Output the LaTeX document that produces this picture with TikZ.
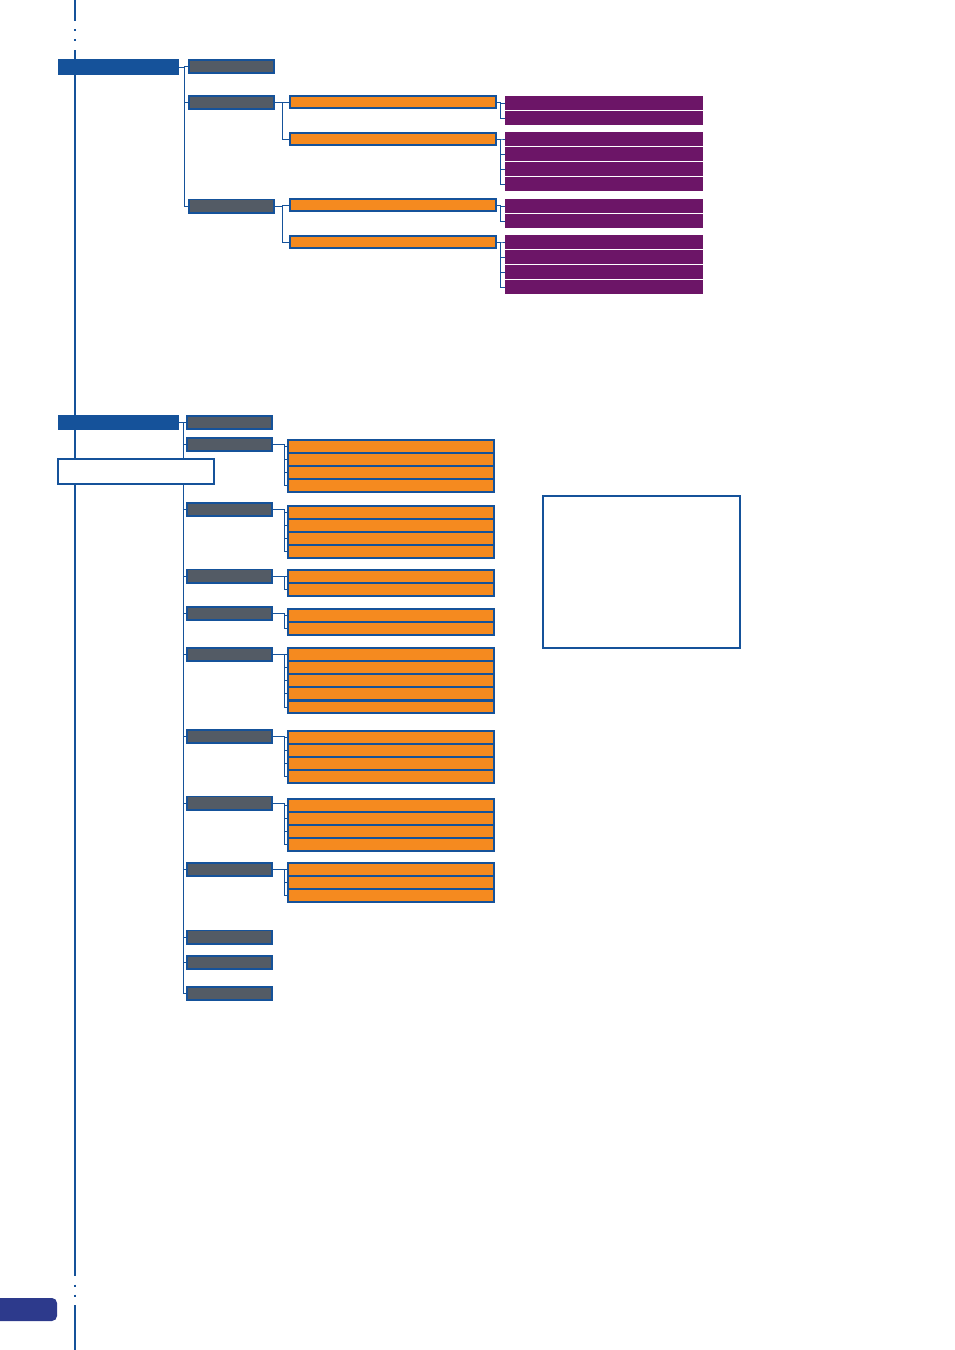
\documentclass[tikz,border=0pt]{standalone}
\usepackage{xcolor}
\usepackage{tikz}

\definecolor{navy}{RGB}{21,82,154}
\definecolor{slate}{RGB}{83,91,101}
\definecolor{amber}{RGB}{245,138,31}
\definecolor{plum}{RGB}{108,21,103}
\definecolor{ink}{RGB}{45,58,140}

\begin{document}
\begin{tikzpicture}[x=1pt, y=-1pt,
    head/.style={fill=navy, inner sep=0pt, minimum width=121pt, minimum height=15.5pt},
    group/.style={draw=navy, line width=1.6pt, fill=slate, inner sep=0pt, minimum width=85.4pt, minimum height=13.4pt},
    item/.style={draw=navy, line width=2pt, fill=amber, inner sep=0pt, minimum width=206pt, minimum height=12pt},
    stack/.style={item, line width=1.8pt, minimum height=12.7pt},
    leaf/.style={fill=plum, inner sep=0pt, minimum width=198pt, minimum height=14pt},
    note/.style={draw=navy, line width=1.9pt, fill=white, inner sep=0pt},
    link/.style={navy, line width=1pt},
    spine/.style={navy, line width=2pt}]

    % 1. Page frame
    \useasboundingbox (0,0) rectangle (954,1350);
    \draw[spine] (75,0) -- (75,21);
    \draw[spine] (75,29) -- (75,31);
    \draw[spine] (75,39) -- (75,41);
    \draw[spine] (75,50) -- (75,1276);
    \draw[spine] (75,1284.5) -- (75,1286.5);
    \draw[spine] (75,1294.5) -- (75,1296.5);
    \draw[spine] (75,1305) -- (75,1350);
    \fill[ink, rounded corners=5pt] (-10,1298) rectangle (57,1321);

    % 2. Upper tree
    \node[head] (top) at (118.5,67) {};
    \node[group] (ta) at (231.5,66.5) {};
    \node[group] (tb) at (231.5,102.5) {};
    \node[group] (tc) at (231.5,206) {};
    \foreach \g in {ta,tb,tc}
        \draw[link] (top.east) -| ([xshift=-4pt]\g.west) -- (\g.west);

    \node[item] (tb1) at (393,102) {};
    \node[item] (tb2) at (393,139) {};
    \node[item] (tc1) at (393,205) {};
    \node[item] (tc2) at (393,242) {};
    \foreach \n in {tb1,tb2}
        \draw[link] (tb.east) -| ([xshift=-7pt]\n.west) -- (\n.west);
    \foreach \n in {tc1,tc2}
        \draw[link] (tc.east) -| ([xshift=-7pt]\n.west) -- (\n.west);

    % 3. Leaves of the upper tree
    \foreach \n/\y/\k in {tb1/103/2, tb2/139/4, tc1/206/2, tc2/242/4} {
        \foreach \j in {1,...,\k} {
            \node[leaf] (\n-\j) at (604,{\y+15*(\j-1)}) {};
            \draw[link] (\n.east) -| ([xshift=-4pt]\n-\j.west) -- (\n-\j.west);
        }
    }

    % 4. Lower tree
    \node[head] (low) at (118,422.5) {};
    \foreach \y [count=\i] in {422.5,444.5,509.5,576,613.5,654.5,736.5,803,869.5,937,962.5,993.5} {
        \node[group] (g\i) at (229.5,\y) {};
        \draw[link] (low.east) -| ([xshift=-3pt]g\i.west) -- (g\i.west);
    }

    % 5. Stacked items of the lower tree
    \foreach \g/\y/\k in {2/439/4, 3/505/4, 4/569/2, 5/608/2, 6/647/5, 7/730/4, 8/798/4, 9/862/3} {
        \foreach \j in {1,...,\k} {
            \node[stack] (g\g-\j) at (391,{\y+7.2+13.2*(\j-1)}) {};
            \draw[link] (g\g.east) -| ([xshift=-3pt]g\g-\j.west) -- (g\g-\j.west);
        }
    }

    % 6. Empty frames
    \node[note, minimum width=156pt, minimum height=25pt] (caption) at (136,471.5) {};
    \node[note, minimum width=197pt, minimum height=152pt] (panel) at (641.5,572) {};
\end{tikzpicture}
\end{document}
